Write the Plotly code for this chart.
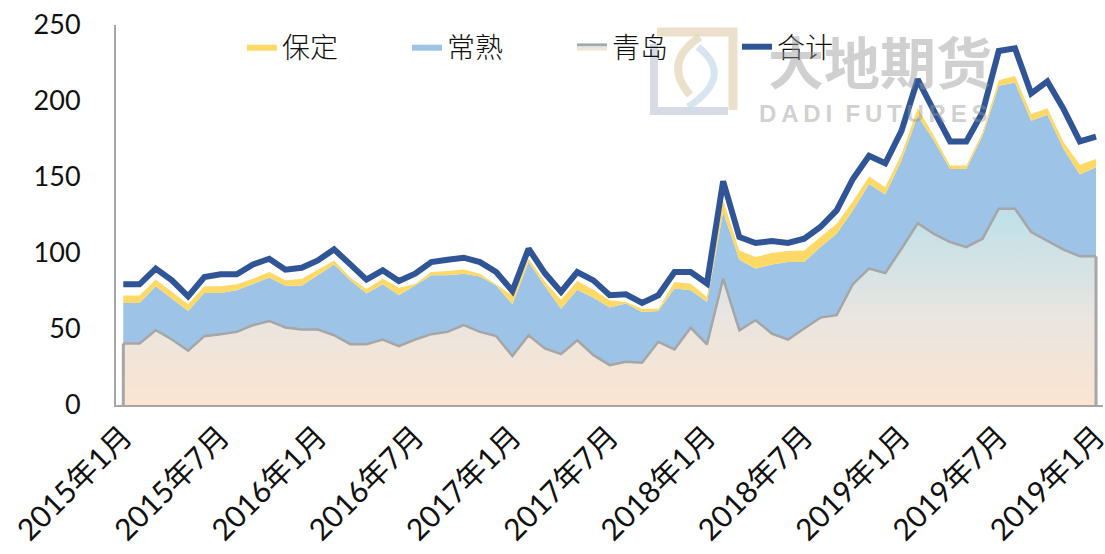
import plotly.graph_objects as go

# ---------------- data ----------------
months = [f"{y}-{m:02d}" for y in range(2015, 2021) for m in range(1, 13)][:61]
tick_months = months[::6]
tick_labels = ["2015年1月", "2015年7月", "2016年1月", "2016年7月", "2017年1月",
               "2017年7月", "2018年1月", "2018年7月", "2019年1月", "2019年7月",
               "2019年1月"]

qingdao = [40.5, 40.5, 49.2, 43.1, 35.7, 45.3, 46.6, 48.1, 52.5, 55.3,
           51.0, 49.6, 49.6, 45.9, 40.0, 40.0, 43.1, 38.7, 43.1, 46.6,
           48.1, 52.5, 48.1, 45.3, 32.2, 45.9, 37.2, 33.5, 42.6, 32.8,
           26.2, 28.4, 27.8, 41.6, 36.5, 50.8, 39.9, 83.1, 49.2, 55.8,
           47.0, 43.1, 50.3, 57.5, 59.1, 79.5, 89.7, 86.8, 102.8, 119.6,
           112.6, 107.2, 103.9, 109.4, 129.1, 129.1, 113.8, 107.9, 102.2, 97.8,
           97.8]

changshu = [26.6, 26.6, 28.9, 26.9, 26.2, 28.4, 27.1, 27.4, 26.9, 28.5,
            27.5, 28.9, 35.7, 46.6, 42.0, 33.3, 36.3, 33.5, 35.6, 38.7,
            37.2, 33.9, 36.5, 33.4, 34.1, 48.1, 41.1, 29.9, 33.3, 37.8,
            38.0, 38.3, 33.4, 20.3, 40.1, 24.7, 27.9, 43.8, 46.4, 33.9,
            45.5, 50.9, 43.7, 46.4, 53.5, 48.4, 55.7, 51.7, 58.0, 70.7,
            61.4, 48.1, 51.4, 67.8, 80.9, 83.1, 73.2, 83.1, 66.2, 53.8,
            58.6]

baoding = [4.9, 4.9, 4.4, 4.4, 4.4, 4.4, 4.4, 3.9, 3.7, 3.7,
           3.5, 4.4, 3.7, 2.6, 1.8, 3.0, 3.7, 5.0, 0.9, 2.2,
           2.9, 2.8, 1.8, 0.7, 5.9, 2.2, 2.9, 5.9, 5.7, 5.3,
           4.7, 1.1, 2.2, 1.5, 4.3, 4.3, 3.3, 7.6, 6.1, 7.6,
           7.5, 7.3, 7.7, 6.6, 6.6, 6.1, 4.9, 4.8, 4.3, 5.0,
           3.2, 2.2, 2.2, 2.2, 3.7, 4.3, 4.4, 4.3, 4.4, 6.5,
           5.5]

total = [79.4, 79.4, 89.7, 82.0, 71.5, 84.2, 86.0, 86.0, 92.5, 96.2,
         89.0, 90.3, 95.1, 102.4, 92.5, 82.5, 88.6, 81.6, 86.4, 94.0,
         95.6, 96.9, 94.0, 87.5, 75.0, 102.8, 86.8, 74.4, 87.5, 82.0,
         72.2, 72.8, 67.2, 72.2, 87.5, 87.5, 79.9, 147.2, 110.5, 106.6,
         107.9, 106.6, 109.4, 117.1, 128.0, 148.7, 164.0, 159.0, 180.4, 214.3,
         193.5, 173.4, 173.4, 192.5, 232.9, 234.7, 205.0, 212.9, 194.7, 173.4,
         176.5]

# stacked tops
cs_top = [q + c for q, c in zip(qingdao, changshu)]
bd_top = [s + b for s, b in zip(cs_top, baoding)]

# ---------------- styling ----------------
W, H = 1105, 554
ML, MR, MT, MB = 116, 2, 25, 149
GRAY = "#A6A6A6"
NUM_FONT = "Lato, Noto Sans CJK SC, sans-serif"
CJK_FONT = "Noto Sans CJK SC, sans-serif"


def px2paper_x(px):
    return (px - ML) / (W - ML - MR)


def px2paper_y(py):
    return (H - MB - py) / (H - MT - MB)


def pt(px, py):
    return f"{px2paper_x(px):.5f},{px2paper_y(py):.5f}"


fig = go.Figure()

fig.add_trace(go.Scatter(
    x=months, y=qingdao, name="青岛", mode="lines",
    line=dict(color=GRAY, width=2.5),
    fill="tozeroy",
    fillgradient=dict(type="vertical", start=0, stop=max(qingdao),
                      colorscale=[[0, "#FBE5D0"], [0.45, "#E9E5E0"], [1, "#BDE0EA"]]),
    legendrank=3, hoverinfo="skip"))

fig.add_trace(go.Scatter(
    x=months, y=cs_top, name="常熟", mode="lines",
    line=dict(color="#9DC3E6", width=0),
    fill="tonexty", fillcolor="#9DC3E6",
    legendrank=2, hoverinfo="skip"))

fig.add_trace(go.Scatter(
    x=months, y=bd_top, name="保定", mode="lines",
    line=dict(color="#FFD966", width=0),
    fill="tonexty", fillcolor="#FFD966",
    legendrank=1, hoverinfo="skip"))

# vertical border edges of the 青岛 area
fig.add_trace(go.Scatter(
    x=[months[0], months[0], None, months[-1], months[-1]],
    y=[0, qingdao[0], None, qingdao[-1], 0],
    mode="lines", line=dict(color=GRAY, width=3),
    showlegend=False, hoverinfo="skip", connectgaps=False))

fig.add_trace(go.Scatter(
    x=months, y=total, name="合计", mode="lines",
    line=dict(color="#2F5597", width=6),
    legendrank=4, hoverinfo="skip"))

# ---------------- watermark (logo drawn below the data) ----------------
BEIGE = "rgba(228,214,184,0.75)"
BLUEG = "rgba(200,207,222,0.75)"
LBLUE = "rgba(200,220,234,0.75)"
shapes = [
    dict(type="path", xref="paper", yref="paper", layer="below",
         path=f"M{pt(657,32)}L{pt(733,32)}L{pt(733,110)}",
         line=dict(color=BEIGE, width=9)),
    dict(type="path", xref="paper", yref="paper", layer="below",
         path=f"M{pt(654,44)}L{pt(654,111)}L{pt(728,111)}",
         line=dict(color=BLUEG, width=8)),
    dict(type="path", xref="paper", yref="paper", layer="below",
         path=f"M{pt(700,37)}Q{pt(662,62)} {pt(690,95)}",
         line=dict(color=BEIGE, width=8)),
    dict(type="path", xref="paper", yref="paper", layer="below",
         path=f"M{pt(698,47)}Q{pt(735,76)} {pt(688,107)}",
         line=dict(color=LBLUE, width=7)),
]

THIN = "\u2009"
annotations = [
    dict(text="大地期货", xref="paper", yref="paper",
         x=px2paper_x(880), y=px2paper_y(60), xanchor="center", yanchor="middle",
         showarrow=False,
         font=dict(family=CJK_FONT, size=56, color="rgba(150,150,150,0.45)", weight=700)),
    dict(text=THIN.join("DADI") + "  " + THIN.join("FUTURES"), xref="paper", yref="paper",
         x=px2paper_x(873), y=px2paper_y(114), xanchor="center", yanchor="middle",
         showarrow=False,
         font=dict(family="Liberation Sans, sans-serif", size=24,
                   color="rgba(150,150,150,0.45)", weight=700)),
]

fig.update_layout(
    width=W, height=H,
    margin=dict(l=ML, r=MR, t=MT, b=MB, autoexpand=False),
    paper_bgcolor="white", plot_bgcolor="white",
    showlegend=True,
    legend=dict(orientation="h", xref="paper", yref="paper",
                x=px2paper_x(242), y=px2paper_y(22), xanchor="left", yanchor="top",
                entrywidth=120, entrywidthmode="pixels",
                font=dict(family=CJK_FONT, size=28, color="#111111", weight=300),
                bgcolor="rgba(0,0,0,0)", traceorder="normal"),
    shapes=shapes,
    annotations=annotations,
    xaxis=dict(type="category", range=[-0.45, 60.43],
               tickmode="array", tickvals=tick_months, ticktext=tick_labels,
               tickangle=-45, ticks="", showgrid=False, zeroline=False,
               showline=True, linecolor=GRAY, linewidth=2,
               ticklabelstandoff=0, automargin=False,
               tickfont=dict(family=NUM_FONT, size=30, color="#111111")),
    yaxis=dict(range=[0, 250], tickmode="array", tickvals=[0, 50, 100, 150, 200, 250],
               ticks="", showgrid=False, zeroline=False,
               showline=True, linecolor=GRAY, linewidth=2,
               ticklabelstandoff=28, automargin=False,
               tickfont=dict(family=NUM_FONT, size=27, color="#111111")),
)

fig.write_html("out.html", config={"displayModeBar": False},
               post_script="document.body.style.margin='0';")
